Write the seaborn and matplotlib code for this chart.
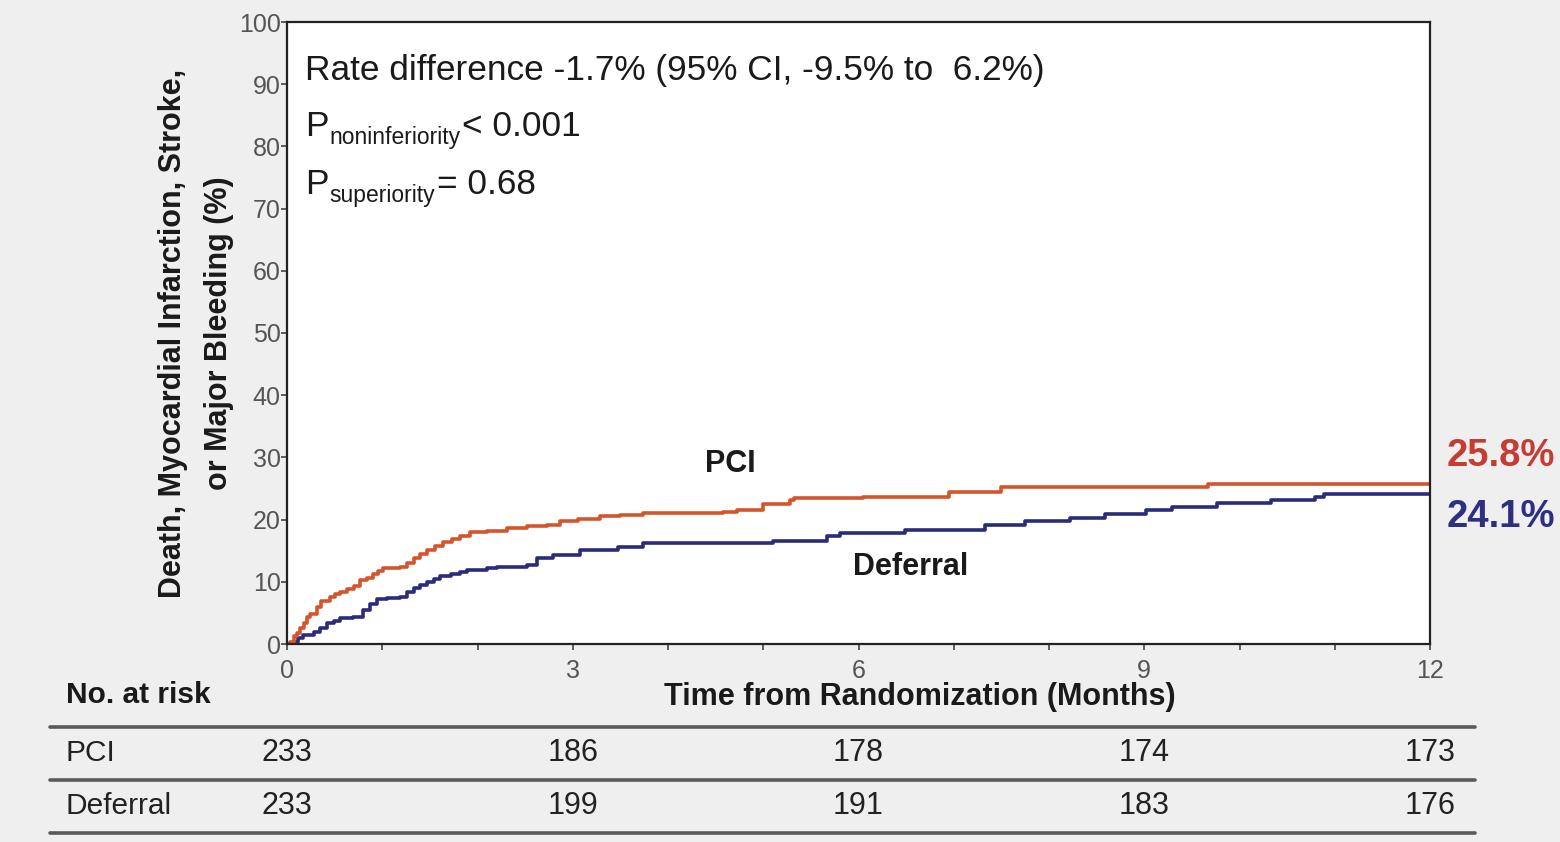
import numpy as np
import pandas as pd
import matplotlib
matplotlib.use("Agg")
import matplotlib.pyplot as plt
import matplotlib.transforms as mtransforms
from matplotlib.lines import Line2D
import seaborn as sns

# ---------------- data ----------------
pci_months = [0, 0.03, 0.07, 0.10, 0.14, 0.18, 0.21, 0.24, 0.31, 0.36, 0.45, 0.50, 0.56,
              0.63, 0.70, 0.77, 0.84, 0.90, 0.96, 1.01, 1.19, 1.26, 1.33, 1.40, 1.47,
              1.55, 1.64, 1.73, 1.82, 1.92, 2.10, 2.31, 2.52, 2.73, 2.87, 3.05, 3.29,
              3.50, 3.74, 4.58, 4.72, 5.00, 5.28, 5.32, 6.05, 6.95, 7.50, 9.67, 12.0]
pci_pct = [0, 0.4, 1.3, 1.7, 2.5, 3.4, 4.3, 4.9, 6.0, 6.9, 7.6, 8.0, 8.4,
           8.9, 9.4, 10.3, 10.6, 11.2, 11.7, 12.2, 12.4, 13.1, 13.8, 14.5, 15.1,
           15.7, 16.4, 16.9, 17.3, 18.0, 18.2, 18.6, 19.0, 19.1, 19.8, 20.1, 20.5,
           20.7, 21.0, 21.3, 21.5, 22.5, 23.2, 23.4, 23.7, 24.4, 25.3, 25.8, 25.8]

def_months = [0, 0.08, 0.12, 0.17, 0.28, 0.35, 0.42, 0.49, 0.56, 0.69, 0.80, 0.87, 0.94,
              1.05, 1.19, 1.26, 1.33, 1.40, 1.47, 1.54, 1.61, 1.72, 1.82, 1.89, 2.10,
              2.20, 2.52, 2.62, 2.79, 3.08, 3.48, 3.74, 5.10, 5.67, 5.81, 6.49, 7.33,
              7.75, 8.22, 8.59, 9.02, 9.29, 9.76, 10.33, 10.79, 10.89, 12.0]
def_pct = [0, 0.4, 0.9, 1.4, 2.0, 2.6, 3.3, 3.7, 4.1, 4.4, 5.5, 6.4, 7.3,
           7.4, 7.6, 8.3, 9.0, 9.5, 10.0, 10.5, 10.9, 11.2, 11.6, 11.9, 12.2,
           12.4, 12.7, 13.8, 14.3, 15.1, 15.6, 16.3, 16.6, 17.3, 17.8, 18.4, 19.1,
           19.7, 20.3, 20.9, 21.6, 22.1, 22.6, 23.2, 23.6, 24.1, 24.1]

groups = ["PCI", "Deferral"]
final_labels = ["25.8%", "24.1%"]
risk_months = [0, 3, 6, 9, 12]
risk_pci = [233, 186, 178, 174, 173]
risk_def = [233, 199, 191, 183, 176]
y_ticks = list(range(0, 101, 10))
x_major = [0, 3, 6, 9, 12]

# ---------------- style ----------------
sns.set_style("white")
plt.rcParams["font.family"] = ["Liberation Sans", "DejaVu Sans"]

col_pci = "#d4552b"
col_def = "#2b2b7c"
col_pci_lbl = "#c43c33"
col_def_lbl = "#2e2f80"
bg = "#efefef"

df = pd.concat([
    pd.DataFrame({"month": pci_months, "pct": pci_pct, "group": "PCI"}),
    pd.DataFrame({"month": def_months, "pct": def_pct, "group": "Deferral"}),
])

fig = plt.figure(figsize=(15.6, 8.42), dpi=100, facecolor=bg)
ax = fig.add_axes([287 / 1560, 1 - 644 / 842, (1430 - 287) / 1560, (644 - 22) / 842])
ax.set_facecolor("white")

sns.lineplot(data=df, x="month", y="pct", hue="group", hue_order=["Deferral", "PCI"],
             palette={"PCI": col_pci, "Deferral": col_def}, drawstyle="steps-post",
             estimator=None, sort=False, legend=False, linewidth=2.6, ax=ax)

ax.set_xlim(0, 12)
ax.set_ylim(0, 100)
ax.set_yticks(y_ticks)
ax.set_xticks(x_major)
ax.set_xticks(range(0, 13), minor=True)
ax.set_xlabel("")
ax.set_ylabel("")
for s in ax.spines.values():
    s.set_color("#222222")
    s.set_linewidth(1.6)
ax.tick_params(axis="y", direction="out", length=4, width=1.2, pad=0.5,
               labelsize=18, labelcolor="#555555", color="#444444", left=True)
ax.tick_params(axis="x", which="both", direction="out", length=4, width=1.2, pad=7,
               labelsize=18, labelcolor="#555555", color="#444444", bottom=True)

# axis labels
ax.text(-0.0796, 0.5, "Death, Myocardial Infarction, Stroke,\nor Major Bleeding (%)",
        transform=ax.transAxes, rotation=90, ha="center", va="center",
        fontsize=22, fontweight="bold", color="#1a1a1a", linespacing=1.72)
ax.text(0.554, -0.085, "Time from Randomization (Months)", transform=ax.transAxes,
        ha="center", va="center", fontsize=22, fontweight="bold", color="#1a1a1a")

# statistics text
ax.text(18 / 1143, 0.922,
        "Rate difference -1.7% (95% CI, -9.5% to  6.2%)", transform=ax.transAxes,
        ha="left", va="center", fontsize=25.4, color="#1a1a1a")
for yy, sub, rest in [(0.832, "noninferiority", "< 0.001"), (0.738, "superiority", "= 0.68")]:
    tP = ax.text(18 / 1143, yy, "P", transform=ax.transAxes, ha="left", va="center",
                 fontsize=25.4, color="#1a1a1a")
    tS = ax.annotate(sub, xy=(1, 0), xycoords=tP, xytext=(0.5, -4),
                     textcoords="offset points", ha="left", va="bottom",
                     fontsize=16.5, color="#1a1a1a")
    ax.annotate(rest, xy=(1, 0), xycoords=(tS, tP), xytext=(1.5, 0),
                textcoords="offset points", ha="left", va="bottom",
                fontsize=25.4, color="#1a1a1a")

# curve labels
ax.text(4.65, 28.9, "PCI", ha="center", va="center", fontsize=22, fontweight="bold",
        color="#1a1a1a")
ax.text(6.55, 12.3, "Deferral", ha="center", va="center", fontsize=22,
        fontweight="bold", color="#1a1a1a")
ax.text(12.17, 30.2, final_labels[0], ha="left", va="center", fontsize=27.5,
        fontweight="bold", color=col_pci_lbl, clip_on=False)
ax.text(12.17, 20.4, final_labels[1], ha="left", va="center", fontsize=27.5,
        fontweight="bold", color=col_def_lbl, clip_on=False)

# number at risk table
bt = mtransforms.blended_transform_factory(ax.transData, fig.transFigure)
fig.text(66 / 1560, 1 - 695 / 842, "No. at risk", ha="left", va="center",
         fontsize=21.5, fontweight="bold", color="#1a1a1a")
row_y = [1 - 753 / 842, 1 - 806 / 842]
for name, vals, yy in [("PCI", risk_pci, row_y[0]), ("Deferral", risk_def, row_y[1])]:
    fig.text(66 / 1560, yy, name, ha="left", va="center", fontsize=21.5, color="#222222")
    for m, v in zip(risk_months, vals):
        ax.text(m, yy, str(v), transform=bt, ha="center", va="center", fontsize=22,
                color="#222222", clip_on=False)
for ly in [727, 780, 833]:
    fig.add_artist(Line2D([50 / 1560, 1475 / 1560], [1 - ly / 842, 1 - ly / 842],
                          transform=fig.transFigure, color="#5a5a5a", linewidth=2.6))

fig.savefig("out.png", dpi=100, facecolor=bg)
